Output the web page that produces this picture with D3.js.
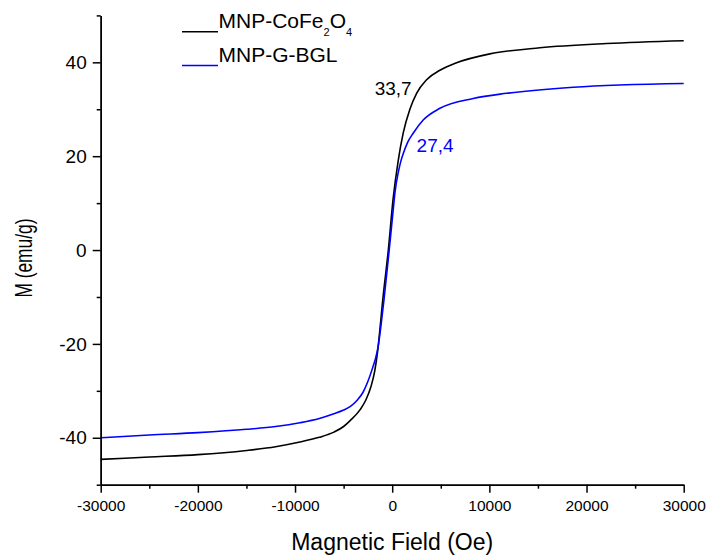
<!DOCTYPE html>
<html>
<head>
<meta charset="utf-8">
<script src="https://cdn.jsdelivr.net/npm/d3@7"></script>
<style>
  body { margin: 0; background: #fff; }
  text { font-family: Arial, "Liberation Sans", sans-serif; fill: #000; }
</style>
</head>
<body>
<div id="chart"></div>
<script>
// data
const fieldCo = [-30000,-25000,-20000,-15000,-12000,-9500,-7500,-6000,-5000,-4300,-3300,-2700,-2200,-1800,-1500,-1200,-1000,-400,100,600,1130,1820,2510,3540,4910,6620,10050,15200,22060,30000];
const momentCo = [-44.6,-44.1,-43.6,-42.7,-41.9,-40.9,-39.9,-38.8,-37.6,-36.3,-34.0,-31.9,-29.2,-25.8,-21.6,-15.5,-11.2,0,11,18.8,24.9,30.0,33.4,36.3,38.3,39.9,41.8,43.1,44.0,44.6];
const fieldBGL = [-30000,-25000,-20000,-15000,-12000,-9500,-7500,-6000,-5000,-4300,-3600,-3000,-2600,-2000,-1700,-1450,-1150,-850,-310,100,300,620,900,1130,1600,2160,3190,4910,8340,11770,18630,30000];
const momentBGL = [-40.0,-39.4,-38.9,-38.2,-37.6,-36.8,-35.9,-34.9,-34.1,-33.3,-32.0,-30.3,-28.5,-25.0,-23.0,-20.6,-16.0,-10.7,0,8.5,12.5,16.5,19.0,20.5,23.0,24.9,27.7,30.2,32.3,33.4,34.7,35.5];

const xTicks = [-30000,-20000,-10000,0,10000,20000,30000];
const xMinor = [-25000,-15000,-5000,5000,15000,25000];
const yTicks = [-40,-20,0,20,40];
const yMinor = [-50,-30,-10,10,30,50];

const seriesNames = ["MNP-CoFe", "MNP-G-BGL"];
const seriesColors = ["#000000", "#0000ff"];
// annotations: [field, moment, text]
const notes = [[2000, 33.0, "33,7"], [2510, 20.9, "27,4"]];

const width = 708, height = 559;
const margin = { top: 15.4, right: 24.3, bottom: 74.3, left: 100.7 };

const svg = d3.select("#chart").append("svg")
  .attr("width", width)
  .attr("height", height);

const x = d3.scaleLinear().domain([-30000, 30000]).range([margin.left, width - margin.right]);
const y = d3.scaleLinear().domain([-50, 50]).range([height - margin.bottom, margin.top]);

const series = [
  { field: fieldCo, moment: momentCo },
  { field: fieldBGL, moment: momentBGL }
];

const line = d3.line()
  .x(d => x(d[0]))
  .y(d => y(d[1]))
  .curve(d3.curveMonotoneX);

series.forEach((s, i) => {
  svg.append("path")
    .datum(d3.zip(s.field, s.moment))
    .attr("fill", "none")
    .attr("stroke", seriesColors[i])
    .attr("stroke-width", 1.6)
    .attr("d", line);
});

// axes
const xAxis = svg.append("g")
  .attr("transform", `translate(0,${y(-50)})`)
  .call(d3.axisBottom(x).tickValues(xTicks).tickSize(8).tickSizeOuter(0).tickPadding(7).tickFormat(d => String(d)));
svg.append("g")
  .attr("transform", `translate(0,${y(-50)})`)
  .call(d3.axisBottom(x).tickValues(xMinor).tickSize(4).tickSizeOuter(0).tickFormat(""));

const yAxis = svg.append("g")
  .attr("transform", `translate(${x(-30000)},0)`)
  .call(d3.axisLeft(y).tickValues(yTicks).tickSize(8).tickSizeOuter(0).tickPadding(6).tickFormat(d => String(d)));
svg.append("g")
  .attr("transform", `translate(${x(-30000)},0)`)
  .call(d3.axisLeft(y).tickValues(yMinor).tickSize(4).tickSizeOuter(0).tickFormat(""));

svg.selectAll(".domain, .tick line").attr("stroke", "#000").attr("stroke-width", 1.5);
xAxis.selectAll("text").attr("font-size", 15.5);
yAxis.selectAll("text").attr("font-size", 19);
svg.selectAll("g").attr("font-family", null);

// axis titles
svg.append("text")
  .attr("x", (x(-30000) + x(30000)) / 2)
  .attr("y", 550)
  .attr("text-anchor", "middle")
  .attr("font-size", 23)
  .text("Magnetic Field (Oe)");

svg.append("text")
  .attr("transform", `translate(31.5,${(y(50) + y(-50)) / 2 + 8}) rotate(-90)`)
  .attr("text-anchor", "middle")
  .attr("font-size", 24)
  .attr("textLength", 79)
  .attr("lengthAdjust", "spacingAndGlyphs")
  .text("M (emu/g)");

// legend
const legendY = [28.3, 62];
seriesNames.forEach((name, i) => {
  svg.append("line")
    .attr("x1", 182).attr("x2", 218)
    .attr("y1", legendY[i] + 3.5).attr("y2", legendY[i] + 3.5)
    .attr("stroke", seriesColors[i])
    .attr("stroke-width", 1.5);
  const t = svg.append("text")
    .attr("x", 218.5)
    .attr("y", legendY[i])
    .attr("font-size", 21)
    .text(name);
  if (i === 0) {
    t.append("tspan").attr("font-size", 11).attr("dy", 7.5).text("2");
    t.append("tspan").attr("font-size", 21).attr("dy", -7.5).text("O");
    t.append("tspan").attr("font-size", 11).attr("dy", 7.5).text("4");
  }
});

// value annotations
svg.selectAll(".note")
  .data(notes)
  .join("text")
  .attr("class", "note")
  .attr("x", d => x(d[0]))
  .attr("y", d => y(d[1]))
  .attr("text-anchor", (d, i) => i === 0 ? "end" : "start")
  .attr("font-size", 19)
  .style("fill", (d, i) => seriesColors[i])
  .text(d => d[2]);
</script>
</body>
</html>
